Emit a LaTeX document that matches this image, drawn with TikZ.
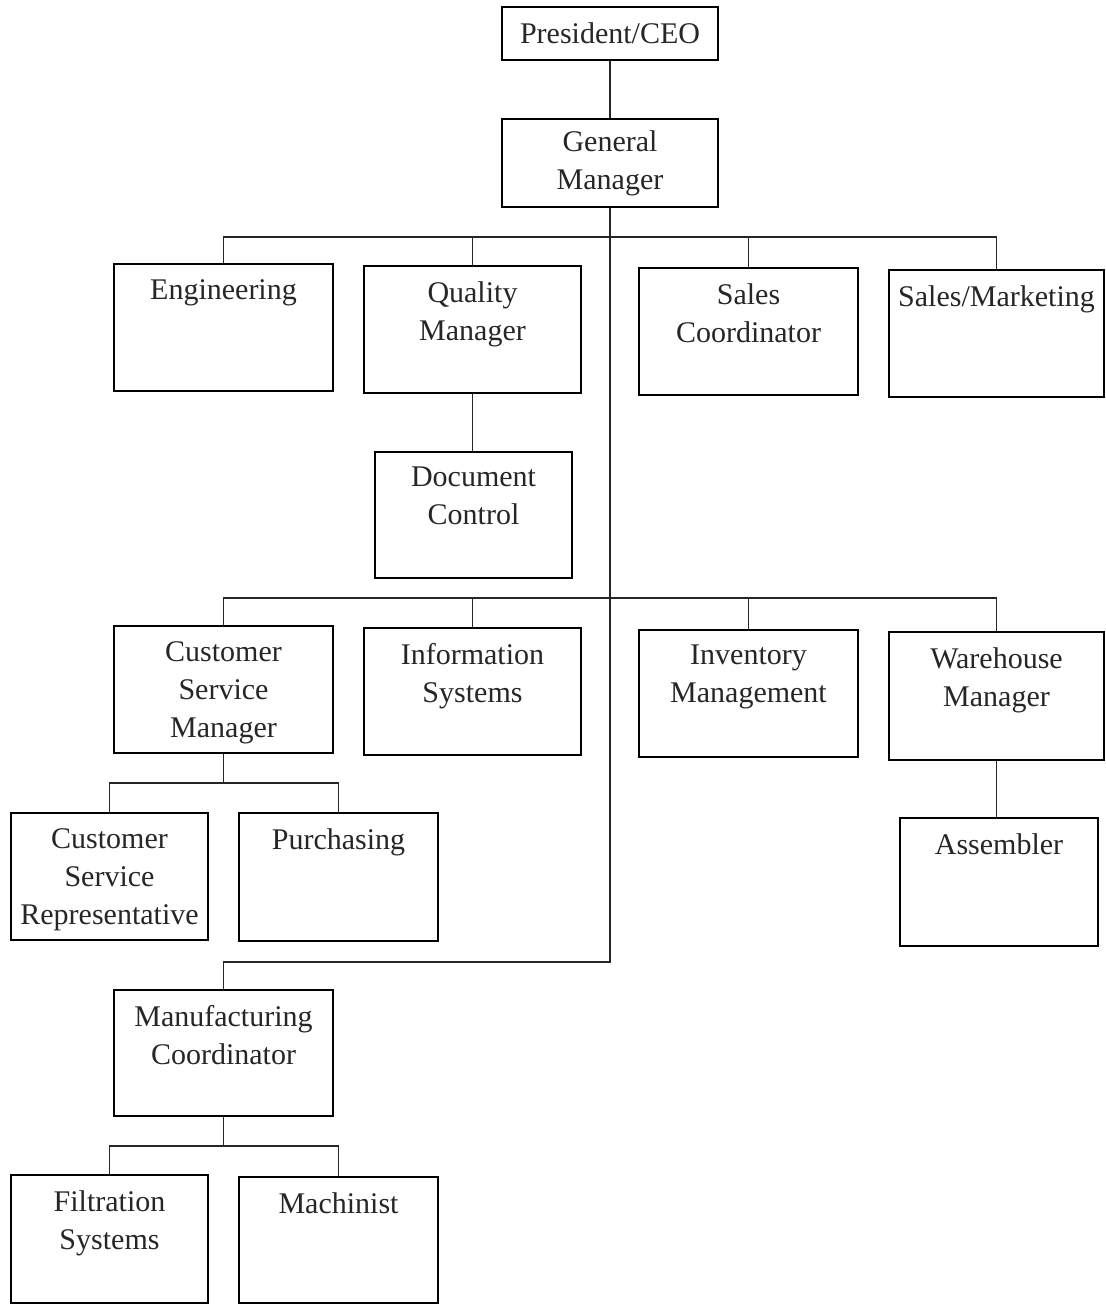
\documentclass[tikz,border=0pt]{standalone}
\usepackage{fontspec}
\setmainfont{Liberation Serif}
\begin{document}
\begin{tikzpicture}[x=1pt,y=-1pt,
  box/.style={draw=black,line width=1.8pt,rectangle,inner sep=0pt},
  txt/.style={anchor=north,inner sep=0pt,align=center,text=black!85,font=\fontsize{30}{38}\selectfont},
  ctxt/.style={align=center,text=black!85,font=\fontsize{30}{38}\selectfont},
  link/.style={line width=1.8pt,draw=black!85}]
\useasboundingbox (0,0) rectangle (1105,1305);
% top
\node[box,ctxt,minimum width=216pt,minimum height=53pt] (pres) at (610,33.5) {President/CEO};
\node[box,ctxt,minimum width=216pt,minimum height=88pt] (gm) at (610,163) {General\\Manager};
% row 1
\node[box,minimum width=219pt,minimum height=127pt] (eng) at (223.5,327.5) {};
\node[box,minimum width=217pt,minimum height=127pt] (qm) at (472.5,329.5) {};
\node[box,minimum width=219pt,minimum height=127pt] (sc) at (748.5,331.5) {};
\node[box,minimum width=215pt,minimum height=127pt] (smk) at (996.5,333.5) {};
\node[box,minimum width=197pt,minimum height=126pt] (dc) at (473.5,515) {};
% row 2
\node[box,minimum width=219pt,minimum height=127pt] (csm) at (223.5,689.5) {};
\node[box,minimum width=217pt,minimum height=127pt] (is) at (472.5,691.5) {};
\node[box,minimum width=219pt,minimum height=127pt] (inv) at (748.5,693.5) {};
\node[box,minimum width=215pt,minimum height=128pt] (wh) at (996.5,696) {};
% row 3
\node[box,minimum width=197pt,minimum height=127pt] (csr) at (109.5,876.5) {};
\node[box,minimum width=199pt,minimum height=128pt] (pur) at (338.5,877) {};
\node[box,minimum width=198pt,minimum height=128pt] (asm) at (999,882) {};
% row 4
\node[box,minimum width=219pt,minimum height=126pt] (mc) at (223.5,1053) {};
\node[box,minimum width=197pt,minimum height=128pt] (fs) at (109.5,1239) {};
\node[box,minimum width=199pt,minimum height=126pt] (mac) at (338.5,1240) {};
% labels
\node[txt] (t-eng) at ([yshift=-16pt]eng.north) {Engineering};
\node[txt] (t-qm) at ([yshift=-16pt]qm.north) {Quality\\Manager};
\node[txt] (t-sc) at ([yshift=-16pt]sc.north) {Sales\\Coordinator};
\node[txt] (t-smk) at ([yshift=-16pt]smk.north) {Sales/Marketing};
\node[txt] (t-dc) at ([yshift=-16pt]dc.north) {Document\\Control};
\node[txt] (t-csm) at ([yshift=-16pt]csm.north) {Customer\\Service\\Manager};
\node[txt] (t-is) at ([yshift=-16pt]is.north) {Information\\Systems};
\node[txt] (t-inv) at ([yshift=-16pt]inv.north) {Inventory\\Management};
\node[txt] (t-wh) at ([yshift=-16pt]wh.north) {Warehouse\\Manager};
\node[txt] (t-csr) at ([yshift=-16pt]csr.north) {Customer\\Service\\Representative};
\node[txt] (t-pur) at ([yshift=-16pt]pur.north) {Purchasing};
\node[txt] (t-asm) at ([yshift=-16pt]asm.north) {Assembler};
\node[txt] (t-mc) at ([yshift=-16pt]mc.north) {Manufacturing\\Coordinator};
\node[txt] (t-fs) at ([yshift=-16pt]fs.north) {Filtration\\Systems};
\node[txt] (t-mac) at ([yshift=-16pt]mac.north) {Machinist};
% junctions
\coordinate (b1) at (610,237);
\coordinate (b2) at (610,598);
\coordinate (tr) at (610,962);
\coordinate (c1) at (223.5,783);
\coordinate (c2) at (223.5,1146);
% connectors
\draw[link] (pres.south) -- (gm.north);
\draw[link] (gm.south) -- (tr) -| (mc.north);
\draw[link] (eng.north) |- (b1);
\draw[link] (qm.north) |- (b1);
\draw[link] (sc.north) |- (b1);
\draw[link] (smk.north) |- (b1);
\draw[link] (qm.south) -- (qm.south |- dc.north);
\draw[link] (csm.north) |- (b2);
\draw[link] (is.north) |- (b2);
\draw[link] (inv.north) |- (b2);
\draw[link] (wh.north) |- (b2);
\draw[link] (csm.south) -- (c1);
\draw[link] (csr.north) |- (c1);
\draw[link] (pur.north) |- (c1);
\draw[link] (wh.south) -- (asm.north -| wh.south);
\draw[link] (mc.south) -- (c2);
\draw[link] (fs.north) |- (c2);
\draw[link] (mac.north) |- (c2);
\end{tikzpicture}
\end{document}
